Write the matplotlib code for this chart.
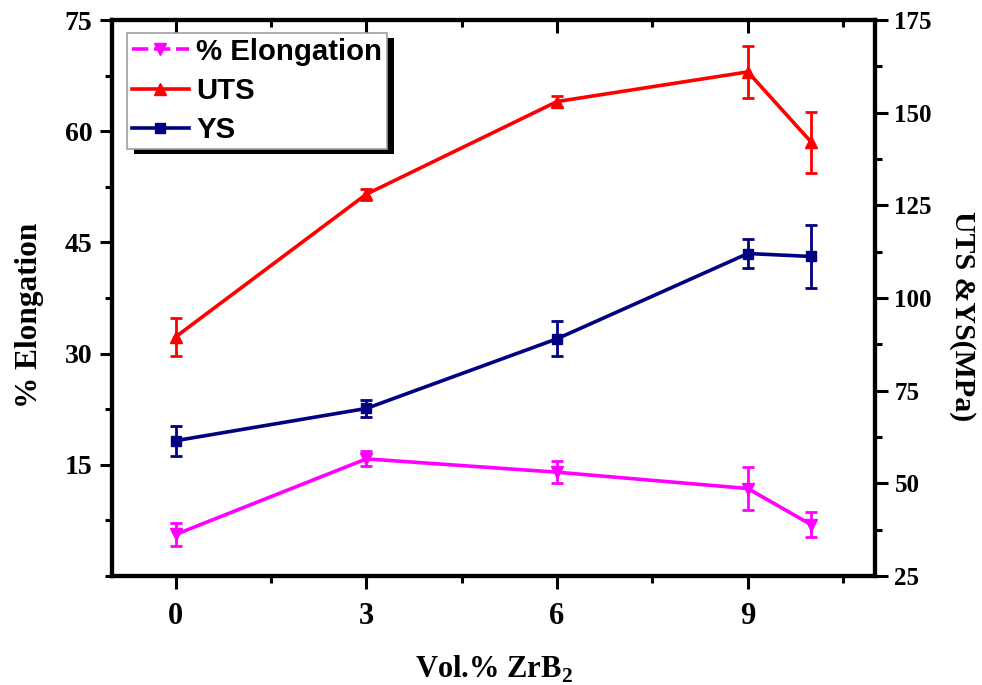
import matplotlib
matplotlib.use("Agg")
import matplotlib.pyplot as plt
from matplotlib.lines import Line2D
from matplotlib.patches import Rectangle
from matplotlib.ticker import MultipleLocator

# --- Data ------------------------------------------------------------------
vol_zrb2 = [0, 3, 6, 9, 10]

elongation = [5.6, 15.8, 14.0, 11.8, 6.9]
elongation_err = [1.6, 1.0, 1.5, 2.9, 1.7]

uts = [89.5, 128.0, 153.0, 161.0, 142.0]
uts_err = [5.2, 1.5, 1.5, 7.0, 8.2]

ys = [61.5, 70.2, 89.0, 112.0, 111.2]
ys_err = [4.0, 2.3, 4.7, 3.8, 8.5]

MAGENTA = "#ff00ff"
RED = "#ff0000"
NAVY = "#000080"

plt.rcParams["font.family"] = ["Liberation Serif", "DejaVu Serif"]
plt.rcParams["font.weight"] = "bold"
plt.rcParams["mathtext.fontset"] = "custom"
plt.rcParams["mathtext.rm"] = "Liberation Serif:bold"
plt.rcParams["mathtext.bf"] = "Liberation Serif:bold"

W, H = 982, 685
L, R, T, B = 112, 875, 20, 576
fig = plt.figure(figsize=(W / 100, H / 100), dpi=100)
ax = fig.add_axes([L / W, (H - B) / H, (R - L) / W, (B - T) / H])
ax2 = ax.twinx()

err_kw = dict(elinewidth=2.0, capsize=4.5, capthick=2.0)

ax.errorbar(vol_zrb2, elongation, yerr=elongation_err, color=MAGENTA, lw=2.6,
            marker="v", ms=9, **err_kw, zorder=3)
ax2.errorbar(vol_zrb2, uts, yerr=uts_err, color=RED, lw=2.6,
             marker="^", ms=9, **err_kw, zorder=3)
ax2.errorbar(vol_zrb2, ys, yerr=ys_err, color=NAVY, lw=2.6,
             marker="s", ms=7, **err_kw, zorder=3)

ax.set_xlim(-1, 11)
ax.set_ylim(0, 75)
ax2.set_ylim(25, 175)

ax.xaxis.set_major_locator(MultipleLocator(3))
ax.xaxis.set_minor_locator(MultipleLocator(1.5))
ax.yaxis.set_minor_locator(MultipleLocator(7.5))
ax.set_yticks([15, 30, 45, 60, 75])
ax2.yaxis.set_major_locator(MultipleLocator(25))
ax2.yaxis.set_minor_locator(MultipleLocator(12.5))

for a in (ax, ax2):
    for s in a.spines.values():
        s.set_linewidth(3.0)

ax.tick_params(axis="both", which="major", direction="out", length=9, width=2.2)
ax.tick_params(axis="both", which="minor", direction="out", length=5, width=2.2)
ax.tick_params(axis="x", which="both", top=True)
ax.tick_params(axis="x", which="major", labelsize=22, pad=10)
ax.tick_params(axis="y", which="major", labelsize=20, pad=5)
ax2.tick_params(axis="y", which="major", direction="out", length=9, width=2.2,
                labelsize=18, pad=5)
ax2.tick_params(axis="y", which="minor", direction="out", length=5, width=2.2)
# top ticks point into the frame
for t in ax.xaxis.get_major_ticks() + ax.xaxis.get_minor_ticks():
    t.tick2line.set_marker(3)

ax.set_xlabel(r"Vol.% ZrB$_2$", fontsize=22, fontweight="bold", labelpad=16)
ax.set_ylabel("% Elongation", fontsize=22.5, fontweight="bold")
ax2.set_ylabel("UTS &YS(MPa)", fontsize=21.5, fontweight="bold", rotation=270)
ax.yaxis.set_label_coords(-0.089, 0.468)
ax2.yaxis.set_label_coords(1.133, 0.467)

handles = [
    Line2D([0], [0], color=MAGENTA, lw=2.6, ls=(0, (4.5, 1.6)), marker="v", ms=9),
    Line2D([0], [0], color=RED, lw=2.6, marker="^", ms=9),
    Line2D([0], [0], color=NAVY, lw=2.6, marker="s", ms=7),
]
labels = ["% Elongation", "UTS", "YS"]
leg = ax.legend(handles, labels, loc="upper left",
                bbox_to_anchor=((127 - L) / (R - L), 1 - (33 - T) / (B - T)),
                prop={"family": "Liberation Sans", "weight": "bold", "size": 21.2},
                frameon=True, fancybox=False, edgecolor="#a0a0a0", framealpha=1,
                borderaxespad=0, handlelength=1.95, handletextpad=0.25,
                labelspacing=0.38, borderpad=0.16)
leg.get_frame().set_linewidth(1.2)
leg.set_zorder(10)
ax2.set_zorder(0)
ax.set_zorder(1)
ax.patch.set_visible(False)

# solid black drop shadow behind the legend box
fig.canvas.draw()
bb = leg.get_window_extent()
shadow = Rectangle((bb.x0 + 7, bb.y0 - 5), bb.width, bb.height,
                   transform=None, facecolor="black", edgecolor="none",
                   zorder=9)
ax.add_artist(shadow)

fig.savefig("out.png", dpi=100)
